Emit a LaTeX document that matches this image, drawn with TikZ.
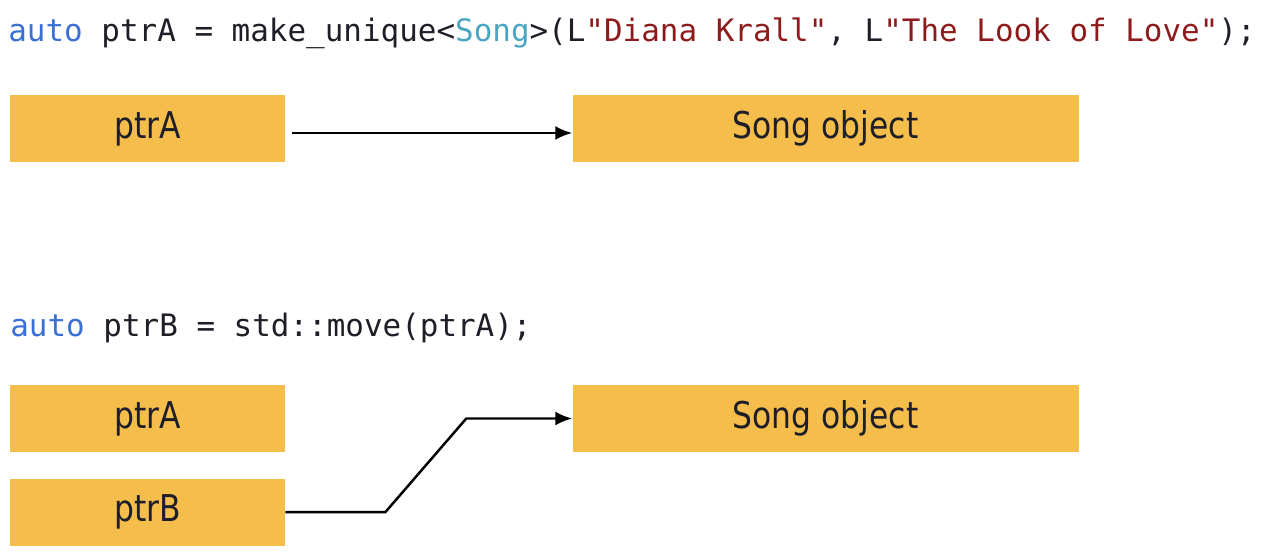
\documentclass[tikz,border=0pt]{standalone}
\usepackage{fontspec}
\usepackage{xcolor}
\usepackage{tikz}
\usetikzlibrary{positioning,arrows.meta,calc}
\newfontfamily\codefont{DejaVu Sans Mono}
\newfontfamily\boxfont[FakeStretch=0.85]{DejaVu Sans}
\definecolor{boxorange}{HTML}{F4BD4C}
\definecolor{kwblue}{HTML}{3A6FD6}
\definecolor{typecyan}{HTML}{4BA5C2}
\definecolor{strred}{HTML}{8E1B1B}
\definecolor{inktext}{HTML}{1E1E28}

\begin{document}
\begin{tikzpicture}[
  x=0.02cm, y=-0.02cm,
  code/.style={anchor=base west, inner sep=0pt, text=inktext,
               font=\codefont\fontsize{17.6pt}{20pt}\selectfont},
  ptrbox/.style={fill=boxorange, minimum width=5.5cm, minimum height=1.34cm,
                 inner sep=0pt, text=inktext,
                 font=\boxfont\fontsize{21pt}{24pt}\selectfont},
  objbox/.style={ptrbox, minimum width=10.12cm},
  arr/.style={-{Latex[length=0.34cm, width=0.28cm]}, line width=1.4pt},
  node distance=0.52cm and 5.74cm
]
  \useasboundingbox (0,0) rectangle (1280,560);

  % first line: make_unique
  \node[code] (lineA) at (8,42)
    {\textcolor{kwblue}{auto} ptrA = make\_unique<\textcolor{typecyan}{Song}>(L\textcolor{strred}{"Diana Krall"}, L\textcolor{strred}{"The Look of Love"});};

  \node[ptrbox] (ptrA) at (147.5,128.5) {ptrA};
  \node[objbox, right=of ptrA] (songA) {Song object};

  \draw[arr, shorten <=0.14cm] ([yshift=-0.09cm]ptrA.east) -- ([yshift=-0.09cm]songA.west);

  % second line: std::move
  \node[code] (lineB) at (10,337)
    {\textcolor{kwblue}{auto} ptrB = std::move(ptrA);};

  \node[ptrbox] (ptrAm) at (147.5,418.5) {ptrA};
  \node[ptrbox, below=of ptrAm] (ptrB) {ptrB};
  \node[objbox, right=of ptrAm] (songB) {Song object};

  \draw[arr] (ptrB.east) -- ++(100,0) -- ($(songB.west)+(-106,0)$) -- (songB.west);
\end{tikzpicture}
\end{document}
